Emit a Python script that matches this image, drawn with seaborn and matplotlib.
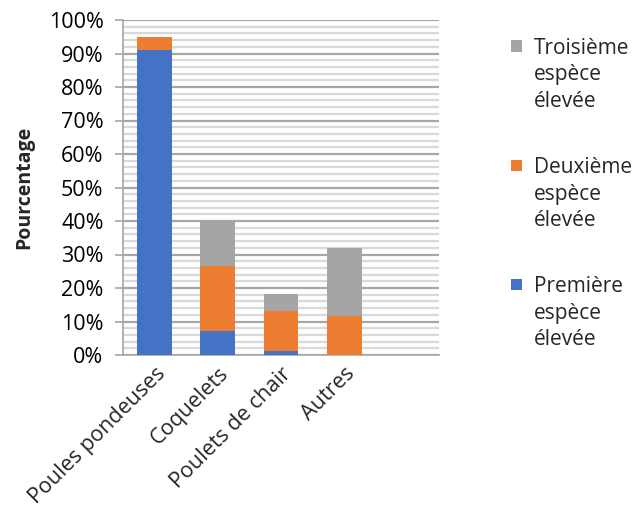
import matplotlib
matplotlib.use("Agg")
import matplotlib.pyplot as plt
import seaborn as sns
import pandas as pd
from matplotlib.patches import Patch, Rectangle
from matplotlib.legend_handler import HandlerPatch
from matplotlib.ticker import MultipleLocator, PercentFormatter

categories = ["Poules pondeuses", "Coquelets", "Poulets de chair", "Autres"]
premiere = [91.0, 7.2, 1.3, 0.0]
deuxieme = [4.0, 19.5, 11.7, 11.7]
troisieme = [0.0, 13.3, 5.1, 20.3]
series_labels = ["Premi\u00e8re\nesp\u00e8ce\n\u00e9lev\u00e9e",
                 "Deuxi\u00e8me\nesp\u00e8ce\n\u00e9lev\u00e9e",
                 "Troisi\u00e8me\nesp\u00e8ce\n\u00e9lev\u00e9e"]
colors = ["#4472C4", "#ED7D31", "#A5A5A5"]

sns.set_style("white")
plt.rcParams["font.family"] = ["Open Sans", "DejaVu Sans"]

FS = 15

df = pd.DataFrame({"cat": categories, "p": premiere, "d": deuxieme, "t": troisieme})
df["c1"] = df["p"]
df["c2"] = df["p"] + df["d"]
df["c3"] = df["c2"] + df["t"]

fig = plt.figure(figsize=(6.39, 5.17), dpi=100)
ax = fig.add_axes([123/639, 1-355/517, (439-123)/639, (355-20)/517])

for col, c in zip(["c3", "c2", "c1"], [colors[2], colors[1], colors[0]]):
    sns.barplot(data=df, x="cat", y=col, color=c, width=0.55, ax=ax,
                saturation=1, linewidth=0, zorder=3, order=categories)

ax.set_xlim(-0.5, 4.5)
ax.set_ylim(0, 100)
ax.yaxis.set_major_locator(MultipleLocator(10))
ax.yaxis.set_minor_locator(MultipleLocator(2))
ax.yaxis.set_major_formatter(PercentFormatter(decimals=0))
ax.grid(axis="y", which="minor", color="#D9D9D9", linewidth=1.6, zorder=0)
ax.grid(axis="y", which="major", color="#A6A6A6", linewidth=1.6, zorder=0)
ax.set_axisbelow(True)
for s in ["top", "right"]:
    ax.spines[s].set_visible(False)
for s in ["left", "bottom"]:
    ax.spines[s].set_color("#A6A6A6")
    ax.spines[s].set_linewidth(1.2)

ax.tick_params(axis="y", which="major", length=6, width=1.2, color="#A6A6A6",
               labelsize=FS + 0.5, pad=8, left=True, labelcolor="#000000")
ax.tick_params(axis="y", which="minor", length=0)
ax.tick_params(axis="x", length=0, labelsize=FS + 0.5, pad=6)
ax.set_xticks(range(len(categories)))
ax.set_xticklabels(categories, rotation=45, ha="right", rotation_mode="anchor")
ax.set_xlabel("")
ax.set_ylabel("Pourcentage", fontsize=14, fontweight="bold")
ax.yaxis.set_label_coords(-89/316, 0.5)

SHIFT = 1.4 * FS


def top_square(legend, orig_handle, xdescent, ydescent, width, height, fontsize):
    return Rectangle((-xdescent, -ydescent + SHIFT), width, height)


handles = [Patch(facecolor=colors[i], edgecolor="none") for i in [2, 1, 0]]
labels = [series_labels[i] for i in [2, 1, 0]]
leg = fig.legend(handles, labels, loc="upper left", bbox_to_anchor=(503/639, 1-30/517),
                 frameon=False, fontsize=FS, handlelength=0.5, handleheight=0.5,
                 handletextpad=0.6, labelspacing=2.2, borderaxespad=0,
                 handler_map={Patch: HandlerPatch(patch_func=top_square)})
for t in leg.get_texts():
    t.set_linespacing(1.32)

fig.savefig("out.png", dpi=100)
